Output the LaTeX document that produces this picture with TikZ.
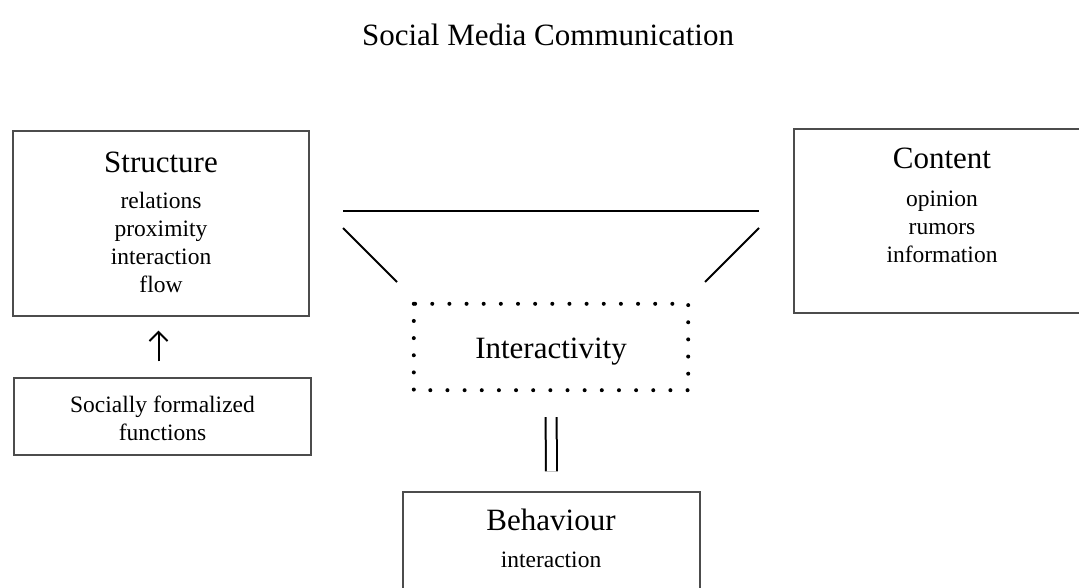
\documentclass[tikz,border=0pt]{standalone}
\usepackage{fontspec}
\setmainfont{Liberation Serif}
\usetikzlibrary{positioning,arrows.meta}
\tikzset{
  frame/.style={draw=black!70, line width=1.3pt, inner sep=0pt},
  headtext/.style={font=\fontsize{31}{31}\selectfont, anchor=base, inner sep=0pt},
  itemtext/.style={font=\fontsize{23.5}{28}\selectfont, anchor=base, align=center, inner sep=0pt},
  link/.style={line width=2pt},
  dotline/.style={line width=4pt, line cap=round, dash pattern=on 0pt off 17.15pt}
}
\begin{document}
\begin{tikzpicture}[x=1pt,y=-1pt]
\useasboundingbox (0,0) rectangle (1079,587);
\clip (0,0) rectangle (1079,587);
% Title
\node[headtext] (title) at (548,45) {Social Media Communication};
% Structure (item nodes sit on their last baseline)
\node[frame, minimum width=296pt, minimum height=185pt] (structure) at (161,223.5) {};
\node[headtext] (structhead) at (161,172) {Structure};
\node[itemtext] (structitems) at (161,292) {relations\\proximity\\interaction\\flow};
% Socially formalized functions
\node[frame, minimum width=297pt, minimum height=77pt] (social) at (162.5,416.5) {};
\node[itemtext] (socialtext) at (162.5,440) {Socially formalized\\functions};
\draw[link, -{Straight Barb[length=9pt, width=18pt]}, shorten <=16pt, shorten >=14pt]
  ([xshift=-4pt]social.north) -- ([xshift=-4pt]social.north |- structure.south);
% Content
\node[frame, minimum width=296pt, minimum height=184pt] (content) at (942,221) {};
\node[headtext] (conthead) at (942,168) {Content};
\node[itemtext] (contitems) at (942,262) {opinion\\rumors\\information};
% Bridge
\coordinate (bridgeL) at (343,211);
\coordinate (bridgeR) at (759,211);
\draw[link] (bridgeL) -- (bridgeR);
\draw[link] (343,228) -- (397,282);
\draw[link] (759,228) -- (705,282);
% Interactivity
\node[inner sep=0pt, minimum width=274pt, minimum height=86pt] (inter) at (551,347) {};
\draw[dotline] (inter.north west) rectangle (inter.south east);
\node[headtext] (intertext) at (551,358) {Interactivity};
% Behaviour
\node[frame, minimum width=297pt, minimum height=150pt] (behaviour) at (551.5,567) {};
\node[headtext] (behhead) at (551,530) {Behaviour};
\node[itemtext] (behitems) at (551,567) {interaction};
\draw[link, double, double distance=9pt, shorten <=27pt, shorten >=20pt] (inter.south) -- (behaviour.north);
\end{tikzpicture}
\end{document}
